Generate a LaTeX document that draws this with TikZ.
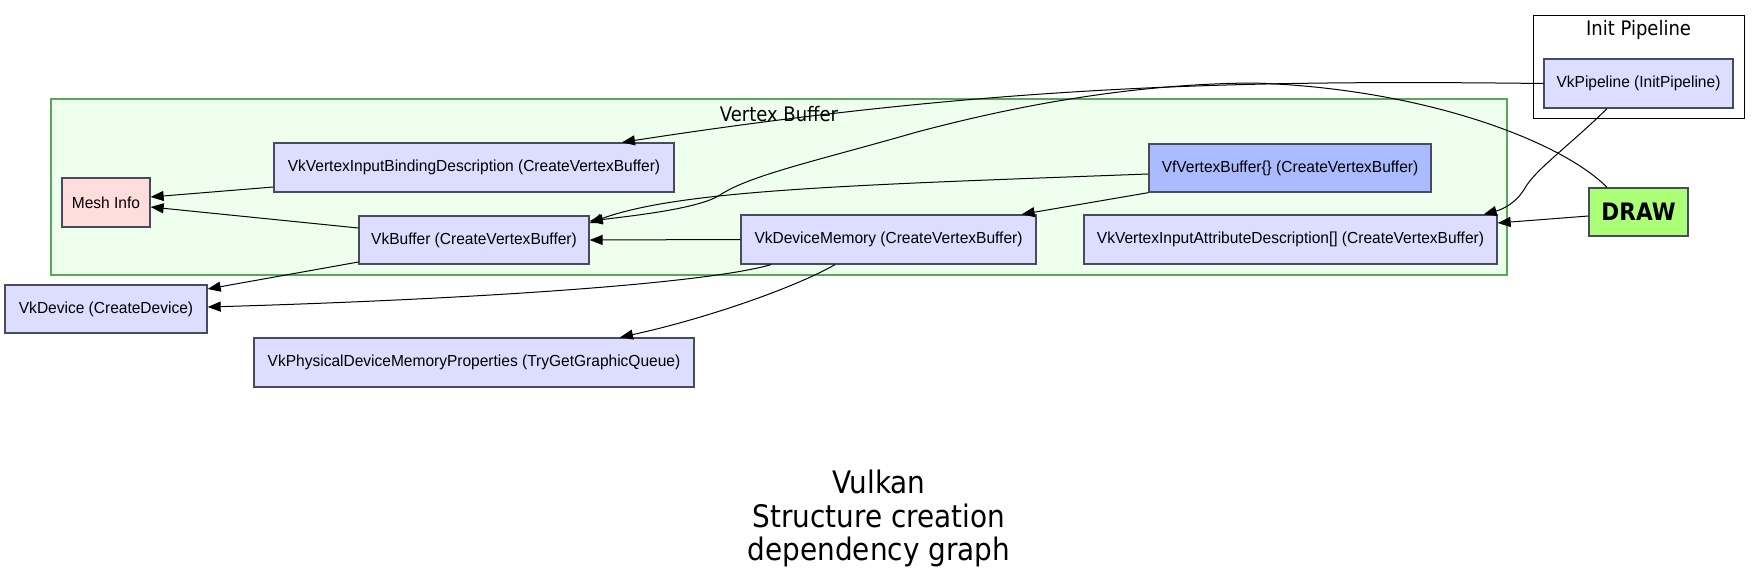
\documentclass[tikz,border=0pt]{standalone}
\usepackage{fontspec}
\setmainfont{Liberation Sans}[FakeStretch=0.97]
\newfontfamily\tfont{DejaVu Sans}[FakeStretch=0.9]
\usetikzlibrary{arrows.meta}
\definecolor{nodefill}{HTML}{DDDDFF}
\definecolor{meshfill}{HTML}{FFDDDD}
\definecolor{vffill}{HTML}{AABBFF}
\definecolor{drawfill}{HTML}{AAFF77}
\definecolor{clfill}{HTML}{EEFFEE}
\definecolor{clborder}{HTML}{55AA55}
\definecolor{nodeborder}{HTML}{4A4A5E}
\tikzset{
  vknode/.style={draw=nodeborder, line width=1.3pt, fill=nodefill, inner sep=0pt,
    font=\fontsize{16}{19}\selectfont},
  meshnode/.style={vknode, fill=meshfill},
  vfnode/.style={vknode, fill=vffill},
  drawnode/.style={vknode, fill=drawfill, font=\tfont\bfseries\fontsize{24}{28}\selectfont},
  vbcluster/.style={draw=clborder, line width=1.3pt, fill=clfill, inner sep=0pt},
  ipcluster/.style={draw=black, line width=1pt, fill=white, inner sep=0pt},
  cllabel/.style={inner sep=0pt, font=\tfont\fontsize{20}{24}\selectfont},
  titlelabel/.style={inner sep=0pt, anchor=base, font=\tfont\fontsize{31}{34}\selectfont},
  edge/.style={line width=1pt, -{Triangle[length=13pt,width=10pt]}},
}
\begin{document}
\begin{tikzpicture}[x=1pt,y=-1pt]
\useasboundingbox (0,0) rectangle (1759,581);
% clusters
\node[vbcluster, minimum width=1456, minimum height=176] (vbbox) at (779,187) {};
\node[cllabel] (vblabel) at (779,114) {Vertex Buffer};
\node[ipcluster, minimum width=211, minimum height=103] (ipbox) at (1638.5,66.5) {};
\node[cllabel] (iplabel) at (1638.5,30) {Init Pipeline};
% nodes
\node[meshnode, minimum width=88, minimum height=49] (mesh) at (106,202.5) {Mesh Info};
\node[vknode, minimum width=400, minimum height=49] (bind) at (474,167.5) {VkVertexInputBindingDescription (CreateVertexBuffer)};
\node[vknode, minimum width=230, minimum height=48] (vkbuf) at (474,240) {VkBuffer (CreateVertexBuffer)};
\node[vfnode, minimum width=282, minimum height=48] (vfvb) at (1290,168) {VfVertexBuffer\{\} (CreateVertexBuffer)};
\node[vknode, minimum width=295, minimum height=49] (devmem) at (888.5,239.5) {VkDeviceMemory (CreateVertexBuffer)};
\node[vknode, minimum width=413, minimum height=49] (attr) at (1290.5,239.5) {VkVertexInputAttributeDescription[] (CreateVertexBuffer)};
\node[drawnode, minimum width=99, minimum height=48] (draw) at (1638.5,212) {DRAW};
\node[vknode, minimum width=189, minimum height=49] (pipe) at (1638.5,83.5) {VkPipeline (InitPipeline)};
\node[vknode, minimum width=202, minimum height=48] (device) at (106,309) {VkDevice (CreateDevice)};
\node[vknode, minimum width=440, minimum height=49] (phys) at (474,362.5) {VkPhysicalDeviceMemoryProperties (TryGetGraphicQueue)};
% title
\node[titlelabel] (title1) at (879,493) {Vulkan};
\node[titlelabel] (title2) at (879,527) {Structure creation};
\node[titlelabel] (title3) at (879,560) {dependency graph};
% edges
\draw[edge] ([yshift=-19.5pt]bind.west) -- ([yshift=5.5pt]mesh.east);
\draw[edge] ([yshift=12pt]vkbuf.west) -- ([yshift=-4.5pt]mesh.east);
\draw[edge] ([yshift=-22pt]vkbuf.west) -- ([yshift=20pt]device.east);
\draw[edge] (devmem.west) -- (vkbuf.east);
\draw[edge] ([xshift=-117.5pt]devmem.south) .. controls (700,285) and (450,300) .. ([yshift=2pt]device.east);
\draw[edge] ([xshift=-53.5pt]devmem.south) .. controls (790,290) and (700,320) .. ([xshift=146pt]phys.north);
\draw[edge] (vfvb.south west) -- ([xshift=-15pt]devmem.north east);
\draw[edge] ([yshift=-6pt]vfvb.west) .. controls (850,185) and (680,190) .. ([yshift=17pt]vkbuf.east);
\draw[edge] ([xshift=-31.5pt]draw.north) .. controls (1560,140) and (1420,88) .. (1253,83)
  .. controls (1120,84) and (1000,110) .. (917,132)
  .. controls (820,160) and (750,175) .. (720,195)
  .. controls (700,208) and (640,215) .. ([yshift=19pt]vkbuf.east);
\draw[edge] (pipe.west) .. controls (1250,80) and (1000,84) .. ([xshift=148pt]bind.north);
\draw[edge] ([xshift=-31.5pt]pipe.south) .. controls (1570,145) and (1535,170) .. (1525,188)
  .. controls (1515,205) and (1500,210) .. ([xshift=-14pt]attr.north east);
\draw[edge] ([yshift=-4pt]draw.west) -- ([yshift=16.5pt]attr.east);
\end{tikzpicture}
\end{document}
